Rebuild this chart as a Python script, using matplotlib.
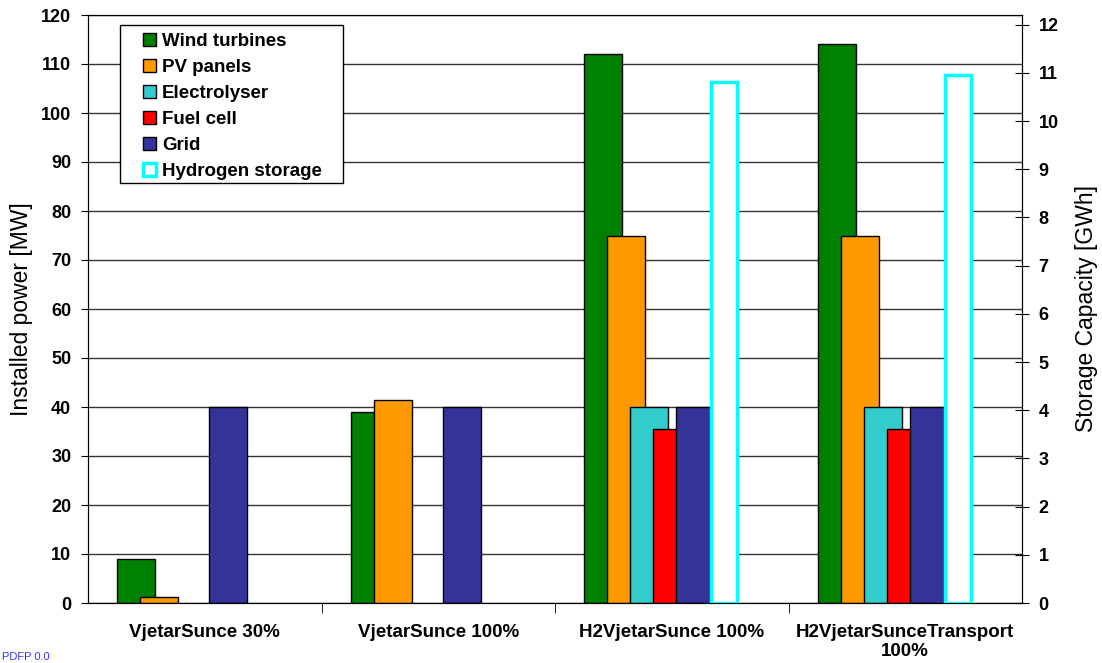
import numpy as np
import matplotlib
matplotlib.use("Agg")
import matplotlib.pyplot as plt
from matplotlib.patches import Patch, Rectangle

plt.rcParams['font.family'] = ['Liberation Sans', 'DejaVu Sans']

categories = ['VjetarSunce 30%', 'VjetarSunce 100%', 'H2VjetarSunce 100%',
              'H2VjetarSunceTransport\n100%']
series_names = ['Wind turbines', 'PV panels', 'Electrolyser', 'Fuel cell', 'Grid']
wind = [9, 39, 112, 114]
pv = [1.3, 41.4, 75, 75]
electrolyser = [0, 0, 40, 40]
fuel_cell = [0, 0, 35.5, 35.5]
grid = [40, 40, 40, 40]
h2_storage = [0, 0, 10.8, 10.95]   # GWh, right axis

colors = ['#008000', '#FF9900', '#33CCCC', '#FF0000', '#333399']

fig = plt.figure(figsize=(11.02, 6.63), dpi=100)
ax = fig.add_axes([88/1102, 60/663, (1022-88)/1102, (603-15)/663])
x = np.arange(len(categories))

# excel style overlapping clustered bars
width = 0.163
step = 0.0986
first = -0.2935
for i, vals in enumerate([wind, pv, electrolyser, fuel_cell, grid]):
    v = np.array(vals, dtype=float)
    m = v > 0
    ax.bar(x[m] + first + i*step, v[m], width=width, color=colors[i],
           edgecolor='black', linewidth=1)

ax.set_xlim(-0.5, 3.5)
ax.set_ylim(0, 120)
ax.set_yticks(range(0, 121, 10))
ax.grid(axis='y', color='#333333', linewidth=1)
ax.set_axisbelow(True)
ax.set_xticks(x)
ax.set_xticklabels(categories, fontweight='bold', fontsize=13.5)
ax.set_xticks([0.5, 1.5, 2.5], minor=True)
ax.tick_params(axis='x', which='major', length=0, pad=15)
ax.tick_params(axis='x', which='minor', length=7, direction='out')
ax.tick_params(axis='y', length=5, pad=7, labelsize=13)
for t in ax.get_yticklabels():
    t.set_fontweight('bold')
ax.set_ylabel('Installed power [MW]', fontsize=16.5, labelpad=6)

ax2 = ax.twinx()
h = np.array(h2_storage)
m = h > 0
ax2.bar(x[m] + 0.225, h[m], width=0.112, color='white', edgecolor='#00FFFF',
        linewidth=2.5)
ax2.set_ylim(0, 12.2)
ax2.set_yticks(range(0, 13))
ax2.tick_params(axis='y', direction='inout', length=10, pad=7, labelsize=13)
for t in ax2.get_yticklabels():
    t.set_fontweight('bold')
ax2.set_ylabel('Storage Capacity [GWh]', fontsize=16.5, labelpad=12)

# legend box drawn separately to get the wide left margin
box = Rectangle((0.0343, 0.714), 0.2387, 0.269, transform=ax2.transAxes,
                facecolor='white', edgecolor='black', linewidth=1, zorder=5)
ax2.add_patch(box)
handles = [Patch(facecolor=c, edgecolor='black') for c in colors]
handles.append(Patch(facecolor='white', edgecolor='#00FFFF', linewidth=2.5))
leg = ax2.legend(handles, series_names + ['Hydrogen storage'], loc='upper left',
                 bbox_to_anchor=(0.059, 0.97), frameon=False,
                 prop={'weight': 'bold', 'size': 13.5},
                 handlelength=0.7, handleheight=0.7, handletextpad=0.3,
                 labelspacing=0.48, borderpad=0, borderaxespad=0)
leg.set_zorder(6)

fig.text(0.002, 0.004, 'PDFP 0.0', color='#3333ff', fontsize=8)

fig.savefig('out.png', dpi=100)
